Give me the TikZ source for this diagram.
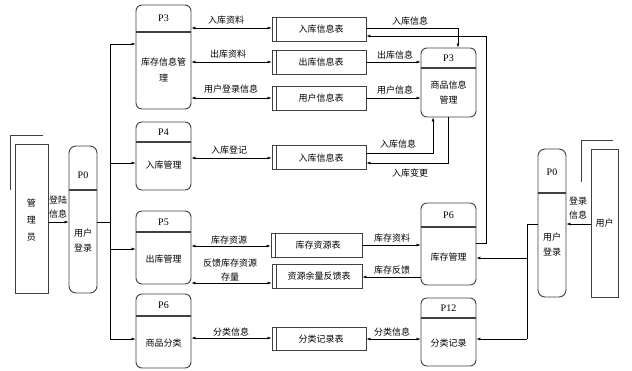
\documentclass[tikz,border=0pt]{standalone}
\usepackage{fontspec}
\setmainfont{Liberation Serif}
\newfontfamily\cjk{Noto Sans CJK SC}
\usetikzlibrary{arrows.meta}
\definecolor{boxc}{HTML}{404040}
\begin{document}
\begin{tikzpicture}[x=1pt,y=-1pt,
  proc/.style={draw=boxc, line width=0.9pt, rounded corners=6pt, minimum width=55pt, inner sep=0pt},
  store/.style={draw=boxc, line width=0.9pt, minimum height=24pt, inner sep=0pt},
  ent/.style={draw=boxc, line width=0.9pt, inner sep=0pt},
  div/.style={draw=boxc, line width=1.2pt},
  inner/.style={draw=boxc, line width=0.7pt},
  lbl/.style={font=\cjk\fontsize{9}{14}\selectfont, inner sep=0pt, align=center},
  ttl/.style={font=\fontsize{10}{12}\selectfont, inner sep=0pt},
  flow/.style={-{Latex[length=4pt,width=3pt]}, line width=0.6pt},
  dflow/.style={{Latex[length=4pt,width=3pt]}-{Latex[length=4pt,width=3pt]}, line width=0.6pt},
  ln/.style={line width=0.6pt}]
\useasboundingbox (0,0) rectangle (632,370);

% ---------- entities ----------
\node[ent, minimum width=33pt, minimum height=149pt] (adm) at (31.5,218.5) {};
\draw[ent] (10,190) -- (10,135) -- (43,135);
\node[lbl, font=\cjk\fontsize{9}{17}\selectfont] (admt) at (31.5,220) {管\\理\\员};

\node[ent, minimum width=27pt, minimum height=148pt] (usr) at (604.5,223) {};
\draw[ent] (581,182) -- (581,140) -- (613,140);
\node[lbl] (usrt) at (604.5,223) {用户};

% ---------- P0 (left / right) ----------
\node[proc, minimum width=28pt, minimum height=147pt, rounded corners=7pt] (p0l) at (83,219.5) {};
\draw[div] (p0l.west |- 0,190) -- (p0l.east |- 0,190);
\node[ttl] (p0lt) at (83,175) {P0};
\node[lbl, font=\cjk\fontsize{9}{15}\selectfont] (p0ltx) at (83,241) {用户\\登录};

\node[proc, minimum width=28pt, minimum height=148pt, rounded corners=7pt] (p0r) at (552,223) {};
\draw[div] (p0r.west |- 0,193) -- (p0r.east |- 0,193);
\node[ttl] (p0rt) at (552,172) {P0};
\node[lbl, font=\cjk\fontsize{9}{15}\selectfont] (p0rtx) at (552,245) {用户\\登录};

% ---------- left processes ----------
\node[proc, minimum height=104pt] (p3a) at (163.5,57) {};
\draw[div] (p3a.west |- 0,32) -- (p3a.east |- 0,32);
\node[ttl] (p3at) at (163.5,18) {P3};
\node[lbl, font=\cjk\fontsize{9}{16}\selectfont] (p3atx) at (163.5,70) {库存信息管\\理};

\node[proc, minimum height=68pt] (p4) at (163.5,156) {};
\draw[div] (p4.west |- 0,142) -- (p4.east |- 0,142);
\node[ttl] (p4t) at (163.5,132) {P4};
\node[lbl] (p4tx) at (163.5,165) {入库管理};

\node[proc, minimum height=73pt] (p5) at (163.5,247.5) {};
\draw[div] (p5.west |- 0,232) -- (p5.east |- 0,232);
\node[ttl] (p5t) at (163.5,222) {P5};
\node[lbl] (p5tx) at (163.5,259) {出库管理};

\node[proc, minimum height=74pt] (p6a) at (163.5,331) {};
\draw[div] (p6a.west |- 0,316) -- (p6a.east |- 0,316);
\node[ttl] (p6at) at (163.5,305) {P6};
\node[lbl] (p6atx) at (163.5,343) {商品分类};

% ---------- right processes ----------
\node[proc, minimum height=69pt] (p3b) at (448.5,82.5) {};
\draw[div] (p3b.west |- 0,68) -- (p3b.east |- 0,68);
\node[ttl] (p3bt) at (448.5,58) {P3};
\node[lbl, font=\cjk\fontsize{9}{15}\selectfont] (p3btx) at (448.5,93) {商品信息\\管理};

\node[proc, minimum height=82pt] (p6b) at (448.5,244) {};
\draw[div] (p6b.west |- 0,227) -- (p6b.east |- 0,227);
\node[ttl] (p6bt) at (448.5,215) {P6};
\node[lbl] (p6btx) at (448.5,257) {库存管理};

\node[proc, minimum height=68pt] (p12) at (448.5,332) {};
\draw[div] (p12.west |- 0,318) -- (p12.east |- 0,318);
\node[ttl] (p12t) at (448.5,308) {P12};
\node[lbl] (p12tx) at (448.5,343) {分类记录};

% ---------- data stores ----------
\node[store, minimum width=94pt] (s1) at (319,29) {};
\node[store, minimum width=94pt] (s2) at (319,62) {};
\node[store, minimum width=94pt] (s3) at (319,98) {};
\node[store, minimum width=94pt] (s4) at (319,157.5) {};
\node[store, minimum width=91pt] (s5) at (316.5,245) {};
\node[store, minimum width=90pt] (s6) at (317,276) {};
\node[store, minimum width=94pt, minimum height=23pt] (s7) at (319,338.5) {};
\foreach \s in {s1,s2,s3,s4,s5,s6,s7}{
  \draw[inner] ([xshift=5pt]\s.north west) -- ([xshift=5pt]\s.south west);
}
\node[lbl] (s1t) at (321,29) {入库信息表};
\node[lbl] (s2t) at (321,62) {出库信息表};
\node[lbl] (s3t) at (321,98) {用户信息表};
\node[lbl] (s4t) at (321,158) {入库信息表};
\node[lbl] (s5t) at (318,245) {库存资源表};
\node[lbl] (s6t) at (319,276) {资源余量反馈表};
\node[lbl] (s7t) at (321,339) {分类记录表};

% ---------- left side flows ----------
\draw[flow] (adm.east |- 0,222) -- (p0l.west |- 0,222);
\node[lbl] (l0) at (58,207) {登陆\\信息};

\coordinate (bj) at (110,222);
\coordinate (b1) at (110,44);
\coordinate (b2) at (110,163);
\coordinate (b3) at (110,249);
\coordinate (b4) at (110,339);
\draw[ln] (p0l.east |- bj) -- (bj);
\draw[ln] (b1) -- (b4);
\draw[flow] (b1) -- (p3a.west |- b1);
\draw[flow] (b2) -- (p4.west |- b2);
\draw[flow] (b3) -- (p5.west |- b3);
\draw[flow] (b4) -- (p6a.west |- b4);

\draw[dflow] (p3a.east |- 0,28) -- (s1.west |- 0,28);
\node[lbl] (l1) at (226,20) {入库资料};
\draw[dflow] (p3a.east |- 0,62) -- (s2.west |- 0,62);
\node[lbl] (l2) at (228,54) {出库资料};
\draw[dflow] (p3a.east |- 0,98) -- (s3.west |- 0,98);
\node[lbl] (l3) at (231,89) {用户登录信息};
\draw[dflow] (p4.east |- 0,158) -- (s4.west |- 0,158);
\node[lbl] (l4) at (229,150) {入库登记};
\draw[dflow] (p5.east |- 0,246) -- (s5.west |- 0,246);
\node[lbl] (l5) at (229,240) {库存资源};
\draw[dflow] (p5.east |- 0,283) -- (s6.west |- 0,283);
\node[lbl] (l6) at (230,270) {反馈库存资源\\存量};
\draw[dflow] (p6a.east |- 0,338) -- (s7.west |- 0,338);
\node[lbl] (l7) at (231,332) {分类信息};

% ---------- right side flows ----------
\coordinate (r1) at (458,28);
\draw[flow] (s1.east |- r1) -- (r1) -- (p3b.north -| r1);
\node[lbl] (l8) at (410,21) {入库信息};

\coordinate (r2a) at (486,243);
\coordinate (r2b) at (486,36);
\draw[flow] (p6b.east |- r2a) -- (r2a) -- (r2b) -- (s1.east |- r2b);

\draw[flow] (s2.east |- 0,62) -- (p3b.west |- 0,62);
\node[lbl] (l9) at (395,55) {出库信息};
\draw[flow] (s3.east |- 0,98) -- (p3b.west |- 0,98);
\node[lbl] (l10) at (395,90) {用户信息};

\coordinate (r3) at (433,153);
\draw[flow] (s4.east |- r3) -- (r3) -- (p3b.south -| r3);
\node[lbl] (l11) at (398,144) {入库信息};
\coordinate (r4) at (448,163);
\draw[flow] (p3b.south -| r4) -- (r4) -- (s4.east |- r4);
\node[lbl] (l12) at (410,173) {入库变更};

\draw[flow] (s5.east |- 0,245) -- (p6b.west |- 0,245);
\node[lbl] (l13) at (392,238) {库存资料};
\draw[flow] (p6b.west |- 0,277) -- (s6.east |- 0,277);
\node[lbl] (l14) at (392,270) {库存反馈};
\draw[dflow] (s7.east |- 0,339) -- (p12.west |- 0,339);
\node[lbl] (l15) at (392,332) {分类信息};

\draw[flow] (usr.west |- 0,224) -- (p0r.east |- 0,224);
\node[lbl] (l16) at (578,208) {登录\\信息};

\coordinate (cj) at (527,224);
\coordinate (c1) at (527,258);
\coordinate (c2) at (527,339);
\draw[ln] (p0r.west |- cj) -- (cj) -- (c2);
\draw[flow] (c1) -- (p6b.east |- c1);
\draw[flow] (c2) -- (p12.east |- c2);
\end{tikzpicture}
\end{document}
